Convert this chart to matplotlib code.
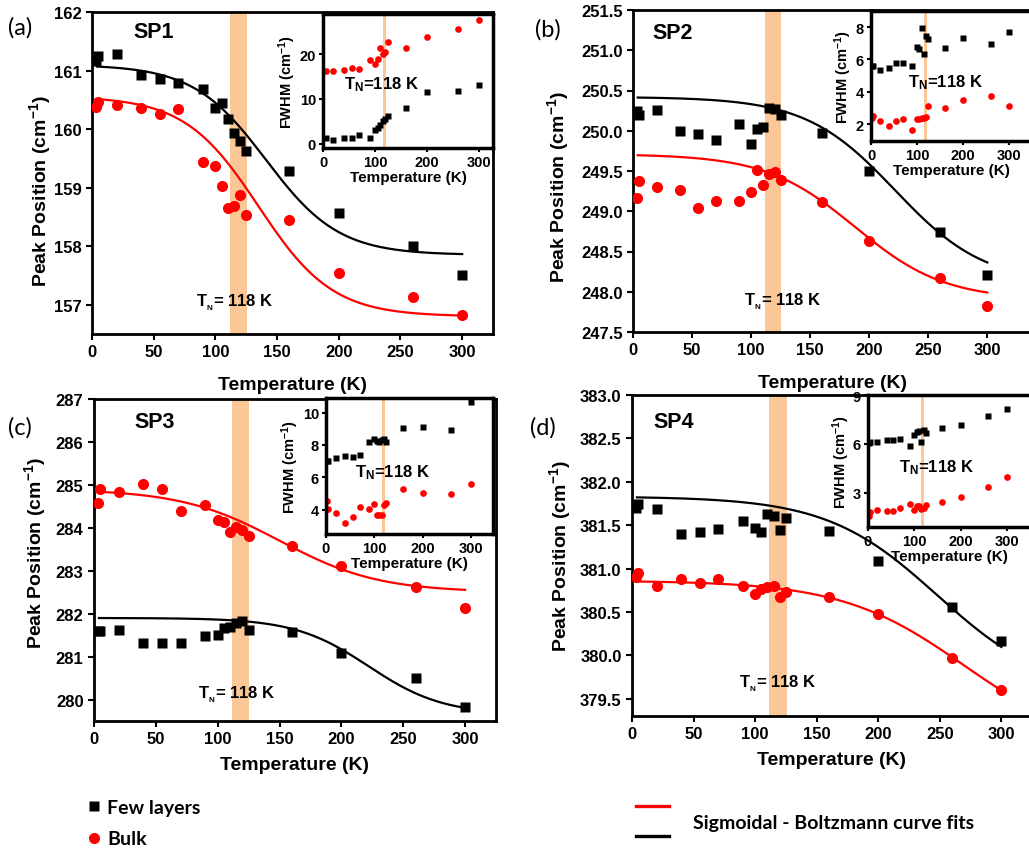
import numpy as np
import matplotlib
matplotlib.use('Agg')
import matplotlib.pyplot as plt
from matplotlib.lines import Line2D

plt.rcParams['font.family'] = ['Liberation Sans', 'DejaVu Sans']
plt.rcParams['font.weight'] = 'bold'
plt.rcParams['axes.labelweight'] = 'bold'
plt.rcParams['mathtext.fontset'] = 'custom'
plt.rcParams['mathtext.rm'] = 'Liberation Sans:bold'
plt.rcParams['mathtext.default'] = 'rm'

# temperatures (K)
temps = [3, 5, 20, 40, 55, 70, 90, 100, 105, 110, 115, 120, 125, 160, 200, 260, 300]
temps_a_inset = [5, 20, 40, 55, 70, 90, 100, 105, 110, 115, 120, 125, 160, 200, 260, 300]

# peak positions (cm-1)
sp1_few = [161.16, 161.24, 161.28, 160.93, 160.85, 160.78, 160.69, 160.36, 160.45,
           160.17, 159.93, 159.79, 159.62, 159.29, 158.56, 158.01, 157.50]
sp1_bulk = [160.37, 160.46, 160.41, 160.36, 160.25, 160.34, 159.44, 159.37, 159.02,
            158.65, 158.68, 158.88, 158.53, 158.44, 157.55, 157.14, 156.82]
sp2_few = [250.24, 250.20, 250.26, 250.00, 249.96, 249.88, 250.08, 249.84, 250.02,
           250.05, 250.28, 250.27, 250.19, 249.97, 249.50, 248.74, 248.21]
sp2_bulk = [249.16, 249.37, 249.30, 249.26, 249.04, 249.13, 249.13, 249.24, 249.51,
            249.32, 249.46, 249.49, 249.39, 249.11, 248.63, 248.17, 247.82]
sp3_few = [281.59, 281.60, 281.62, 281.31, 281.31, 281.31, 281.47, 281.51, 281.66,
           281.69, 281.79, 281.84, 281.62, 281.57, 281.08, 280.50, 279.83]
sp3_bulk = [284.57, 284.90, 284.84, 285.03, 284.91, 284.38, 284.52, 284.18, 284.14,
            283.90, 284.02, 283.94, 283.81, 283.58, 283.10, 282.63, 282.13]
sp4_few = [381.70, 381.74, 381.69, 381.40, 381.42, 381.46, 381.55, 381.47, 381.42,
           381.63, 381.61, 381.44, 381.58, 381.43, 381.09, 380.56, 380.16]
sp4_bulk = [380.90, 380.95, 380.80, 380.88, 380.83, 380.88, 380.80, 380.71, 380.76,
            380.79, 380.80, 380.67, 380.73, 380.67, 380.47, 379.97, 379.60]

# Boltzmann fit parameters (A1, A2, x0, dx)
sp1_fit_few = (161.10, 157.85, 141, 29.6)
sp1_fit_bulk = (160.56, 156.80, 135, 30)
sp2_fit_few = (250.42, 248.10, 222, 38)
sp2_fit_bulk = (249.71, 247.90, 188, 38)
sp3_fit_few = (281.90, 279.65, 222, 30)
sp3_fit_bulk = (284.90, 282.50, 150, 40)
sp4_fit_few = (381.83, 379.55, 248, 45)
sp4_fit_bulk = (380.86, 378.90, 270, 50)
fit_range = (4, 300)

# FWHM (cm-1)
fwhm1_few = [1.2, 0.7, 1.2, 1.3, 1.8, 1.3, 3.0, 3.4, 4.1, 5.0, 5.6, 6.2, 8.0, 11.6, 11.7, 13.0]
fwhm1_bulk = [16.2, 16.3, 16.5, 16.8, 16.6, 18.8, 17.7, 19.0, 21.3, 20.0, 20.5, 22.8,
              21.4, 23.9, 25.7, 27.6]
fwhm2_few = [5.58, 5.60, 5.35, 5.47, 5.76, 5.80, 5.60, 6.77, 6.64, 7.94, 6.36, 7.44,
             7.24, 6.71, 7.30, 6.95, 7.67]
fwhm2_bulk = [2.37, 2.51, 2.16, 1.90, 2.16, 2.29, 1.63, 2.29, 2.33, 2.39, 2.37, 2.45,
              3.11, 2.99, 3.48, 3.75, 3.13]
fwhm3_few = [7.02, 7.00, 7.21, 7.29, 7.25, 7.35, 8.17, 8.38, 8.23, 8.17, 8.30, 8.35,
             8.20, 9.06, 9.13, 8.94, 10.67]
fwhm3_bulk = [4.54, 4.06, 3.77, 3.15, 3.54, 4.17, 4.06, 4.33, 3.65, 3.67, 3.67, 4.27,
              4.40, 5.27, 5.04, 5.00, 5.60]
fwhm4_few = [6.06, 6.10, 6.10, 6.22, 6.22, 6.30, 5.90, 6.57, 6.70, 6.77, 6.10, 6.85,
             6.69, 6.97, 7.16, 7.74, 8.17]
fwhm4_bulk = [1.60, 1.84, 1.96, 1.86, 1.90, 2.04, 2.30, 1.96, 2.20, 2.18, 2.00, 2.04,
              2.26, 2.43, 2.77, 3.36, 3.95]

main_xticks = [0, 50, 100, 150, 200, 250, 300]
inset_xticks = [0, 100, 200, 300]
band_main = (111.5, 125.5)
band_inset = (115, 122)
orange = '#fcc796'


def boltzmann(t, p):
    a1, a2, x0, dx = p
    return a2 + (a1 - a2) / (1 + np.exp((t - x0) / dx))


fig = plt.figure(figsize=(10.29, 8.53), dpi=100)
W, H = 1029, 853


def px_axes(left, top, right, bottom):
    return fig.add_axes([left / W, 1 - bottom / H, (right - left) / W, (bottom - top) / H])


def set_ticks(ax, xt, yt, fmt, size):
    ax.set_xticks(xt, ['%d' % v for v in xt], fontweight='bold', fontsize=size)
    ax.set_yticks(yt, [fmt % v for v in yt], fontweight='bold', fontsize=size)


panels = [
    dict(box=(92, 13, 493, 335), xlim=(0, 325), ylim=(156.5, 162), yticks=np.arange(157, 162.1, 1),
         fmt='%d', few=sp1_few, bulk=sp1_bulk, ffew=sp1_fit_few, fbulk=sp1_fit_bulk,
         name='SP1', namepos=(0.155, 0.938), tn=(116, 157.05), lab='(a)', labpos=(8, 28),
         xlpad=12, ylc=(-0.097, 0.447),
         ibox=(323, 15, 493, 149), ixlim=(0, 327), iylim=(-1, 29), iyticks=[0, 10, 20],
         it=temps_a_inset, ifew=fwhm1_few, ibulk=fwhm1_bulk, itn=(113, 13.3)),
    dict(box=(633, 11, 1031, 333), xlim=(0, 337), ylim=(247.5, 251.5), yticks=np.arange(247.5, 251.6, 0.5),
         fmt='%.1f', few=sp2_few, bulk=sp2_bulk, ffew=sp2_fit_few, fbulk=sp2_fit_bulk,
         name='SP2', namepos=(0.10, 0.93), tn=(127, 247.89), lab='(b)', labpos=(535, 30),
         xlpad=12, ylc=(-0.157, 0.453),
         ibox=(871, 12, 1031, 142), ixlim=(0, 348), iylim=(0.95, 9), iyticks=[2, 4, 6, 8],
         it=temps, ifew=fwhm2_few, ibulk=fwhm2_bulk, itn=(163, 4.65)),
    dict(box=(94, 400, 496, 722), xlim=(0, 325), ylim=(279.5, 287), yticks=np.arange(280, 287.1, 1),
         fmt='%d', few=sp3_few, bulk=sp3_bulk, ffew=sp3_fit_few, fbulk=sp3_fit_bulk,
         name='SP3', namepos=(0.152, 0.93), tn=(115.6, 280.14), lab='(c)', labpos=(8, 428),
         xlpad=7, ylc=(-0.114, 0.525),
         ibox=(326, 399, 493, 535), ixlim=(0, 346), iylim=(2.5, 10.9), iyticks=[4, 6, 8, 10],
         it=temps, ifew=fwhm3_few, ibulk=fwhm3_bulk, itn=(137, 6.37)),
    dict(box=(632, 396, 1031, 717), xlim=(0, 324), ylim=(379.3, 383.0), yticks=np.arange(379.5, 383.01, 0.5),
         fmt='%.1f', few=sp4_few, bulk=sp4_bulk, ffew=sp4_fit_few, fbulk=sp4_fit_bulk,
         name='SP4', namepos=(0.105, 0.916), tn=(118, 379.68), lab='(d)', labpos=(530, 428),
         xlpad=7, ylc=(-0.147, 0.50),
         ibox=(868, 396, 1031, 528), ixlim=(0, 352), iylim=(0.9, 9), iyticks=[3, 6, 9],
         it=temps, ifew=fwhm4_few, ibulk=fwhm4_bulk, itn=(147, 4.6)),
]

tfit = np.linspace(fit_range[0], fit_range[1], 300)

for p in panels:
    ax = px_axes(*p['box'])
    ax.axvspan(*band_main, color=orange, lw=0, zorder=0)
    ax.plot(tfit, boltzmann(tfit, p['ffew']), color='black', lw=1.6, zorder=2)
    ax.plot(tfit, boltzmann(tfit, p['fbulk']), color='red', lw=1.6, zorder=2)
    ax.plot(temps, p['few'], 's', color='black', ms=7, mec='none', zorder=3)
    ax.plot(temps, p['bulk'], 'o', color='red', ms=8, mec='none', zorder=3)
    ax.set_xlim(*p['xlim'])
    ax.set_ylim(*p['ylim'])
    set_ticks(ax, main_xticks, p['yticks'], p['fmt'], 12)
    ax.tick_params(direction='out', width=1.5, length=4)
    for s in ax.spines.values():
        s.set_linewidth(2)
    ax.set_xlabel('Temperature (K)', fontsize=14, labelpad=p['xlpad'])
    ax.set_ylabel('Peak Position (cm$^{-1}$)', fontsize=14)
    ax.yaxis.set_label_coords(*p['ylc'])
    ax.text(*p['namepos'], p['name'], transform=ax.transAxes, ha='center', va='center', fontsize=15.5)
    ax.text(*p['tn'], r'T$_{_\mathregular{N}}$= 118 K', ha='center', va='center', fontsize=12)
    fig.text(p['labpos'][0] / W, 1 - p['labpos'][1] / H, p['lab'], family='Lato',
             fontweight='normal', fontsize=17, va='center', ha='left')

    ia = px_axes(*p['ibox'])
    ia.axvspan(*band_inset, color=orange, lw=0, zorder=0)
    ia.plot(p['it'], p['ifew'], 's', color='black', ms=4.2, mec='none')
    ia.plot(p['it'], p['ibulk'], 'o', color='red', ms=4.8, mec='none')
    ia.set_xlim(*p['ixlim'])
    ia.set_ylim(*p['iylim'])
    set_ticks(ia, inset_xticks, p['iyticks'], '%d', 10.5)
    ia.tick_params(direction='out', width=1.5, length=3, pad=2)
    for s in ia.spines.values():
        s.set_linewidth(2.5)
    ia.set_xlabel('Temperature (K)', fontsize=11, labelpad=1)
    ia.set_ylabel('FWHM (cm$^{-1}$)', fontsize=10.5, labelpad=1)
    ia.text(*p['itn'], r'T$_\mathregular{N}$=118 K', ha='center', va='center', fontsize=12)

# bottom legends
marker_handles = [Line2D([], [], ls='none', marker='s', color='black', ms=7, mec='none'),
                  Line2D([], [], ls='none', marker='o', color='red', ms=8, mec='none')]
fig.legend(marker_handles, ['Few layers', 'Bulk'], loc='upper left',
           bbox_to_anchor=(76 / W, 1 - 790 / H), frameon=False, handlelength=0.8,
           handletextpad=0.3, labelspacing=0.75, borderpad=0,
           prop=dict(family='Lato', weight='bold', size=14))
line_handles = [Line2D([], [], color='red', lw=2.4), Line2D([], [], color='black', lw=2.4)]
fig.legend(line_handles, [' ', ' '], loc='upper left', bbox_to_anchor=(626 / W, 1 - 790 / H),
           frameon=False, handlelength=1.7, handletextpad=0, labelspacing=0.65, borderpad=0,
           prop=dict(family='Lato', weight='bold', size=14))
fig.text(693 / W, 1 - 824 / H, 'Sigmoidal - Boltzmann curve fits', family='Lato',
         fontweight='bold', fontsize=14, va='center', ha='left')

fig.savefig('out.png', dpi=100)
